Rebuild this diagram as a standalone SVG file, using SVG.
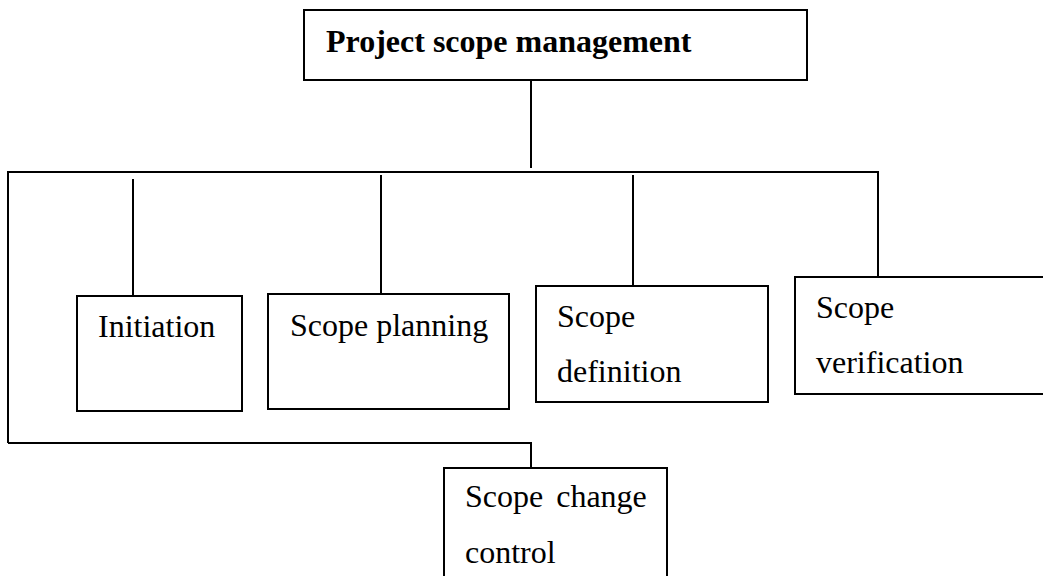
<svg xmlns="http://www.w3.org/2000/svg" width="1043" height="576" viewBox="0 0 1043 576">
<style>
.box{fill:#fff;stroke:#000;stroke-width:2}
.ln{fill:none;stroke:#000;stroke-width:2}
text{font-family:"Liberation Serif","Times New Roman",serif;font-size:32px;fill:#000}
.b{font-weight:bold}
</style>
<rect width="1043" height="576" fill="#fff"/>
<g id="connectors">
<line class="ln" x1="531" y1="80" x2="531" y2="168"/>
<polyline class="ln" points="8,443 8,172 878,172 878,277"/>
<line class="ln" x1="133" y1="179" x2="133" y2="295"/>
<line class="ln" x1="381" y1="175" x2="381" y2="294"/>
<line class="ln" x1="633" y1="175" x2="633" y2="286"/>
<polyline class="ln" points="8,443 531,443 531,468"/>
</g>
<g id="root">
<rect class="box" x="304" y="10" width="503" height="70"/>
<text class="b" x="326" y="52">Project scope management</text>
</g>
<g id="initiation">
<rect class="box" x="77" y="296" width="165" height="115"/>
<text x="98" y="337">Initiation</text>
</g>
<g id="planning">
<rect class="box" x="268" y="294" width="241" height="115"/>
<text x="290" y="336">Scope planning</text>
</g>
<g id="definition">
<rect class="box" x="536" y="286" width="232" height="116"/>
<text x="557" y="327">Scope</text>
<text x="557" y="382">definition</text>
</g>
<g id="verification">
<rect class="box" x="795" y="277" width="260" height="117"/>
<text x="816" y="318">Scope</text>
<text x="816" y="373">verification</text>
</g>
<g id="change-control">
<rect class="box" x="444" y="468" width="223" height="120"/>
<text x="465" y="507" word-spacing="5">Scope change</text>
<text x="465" y="563">control</text>
</g>
</svg>
